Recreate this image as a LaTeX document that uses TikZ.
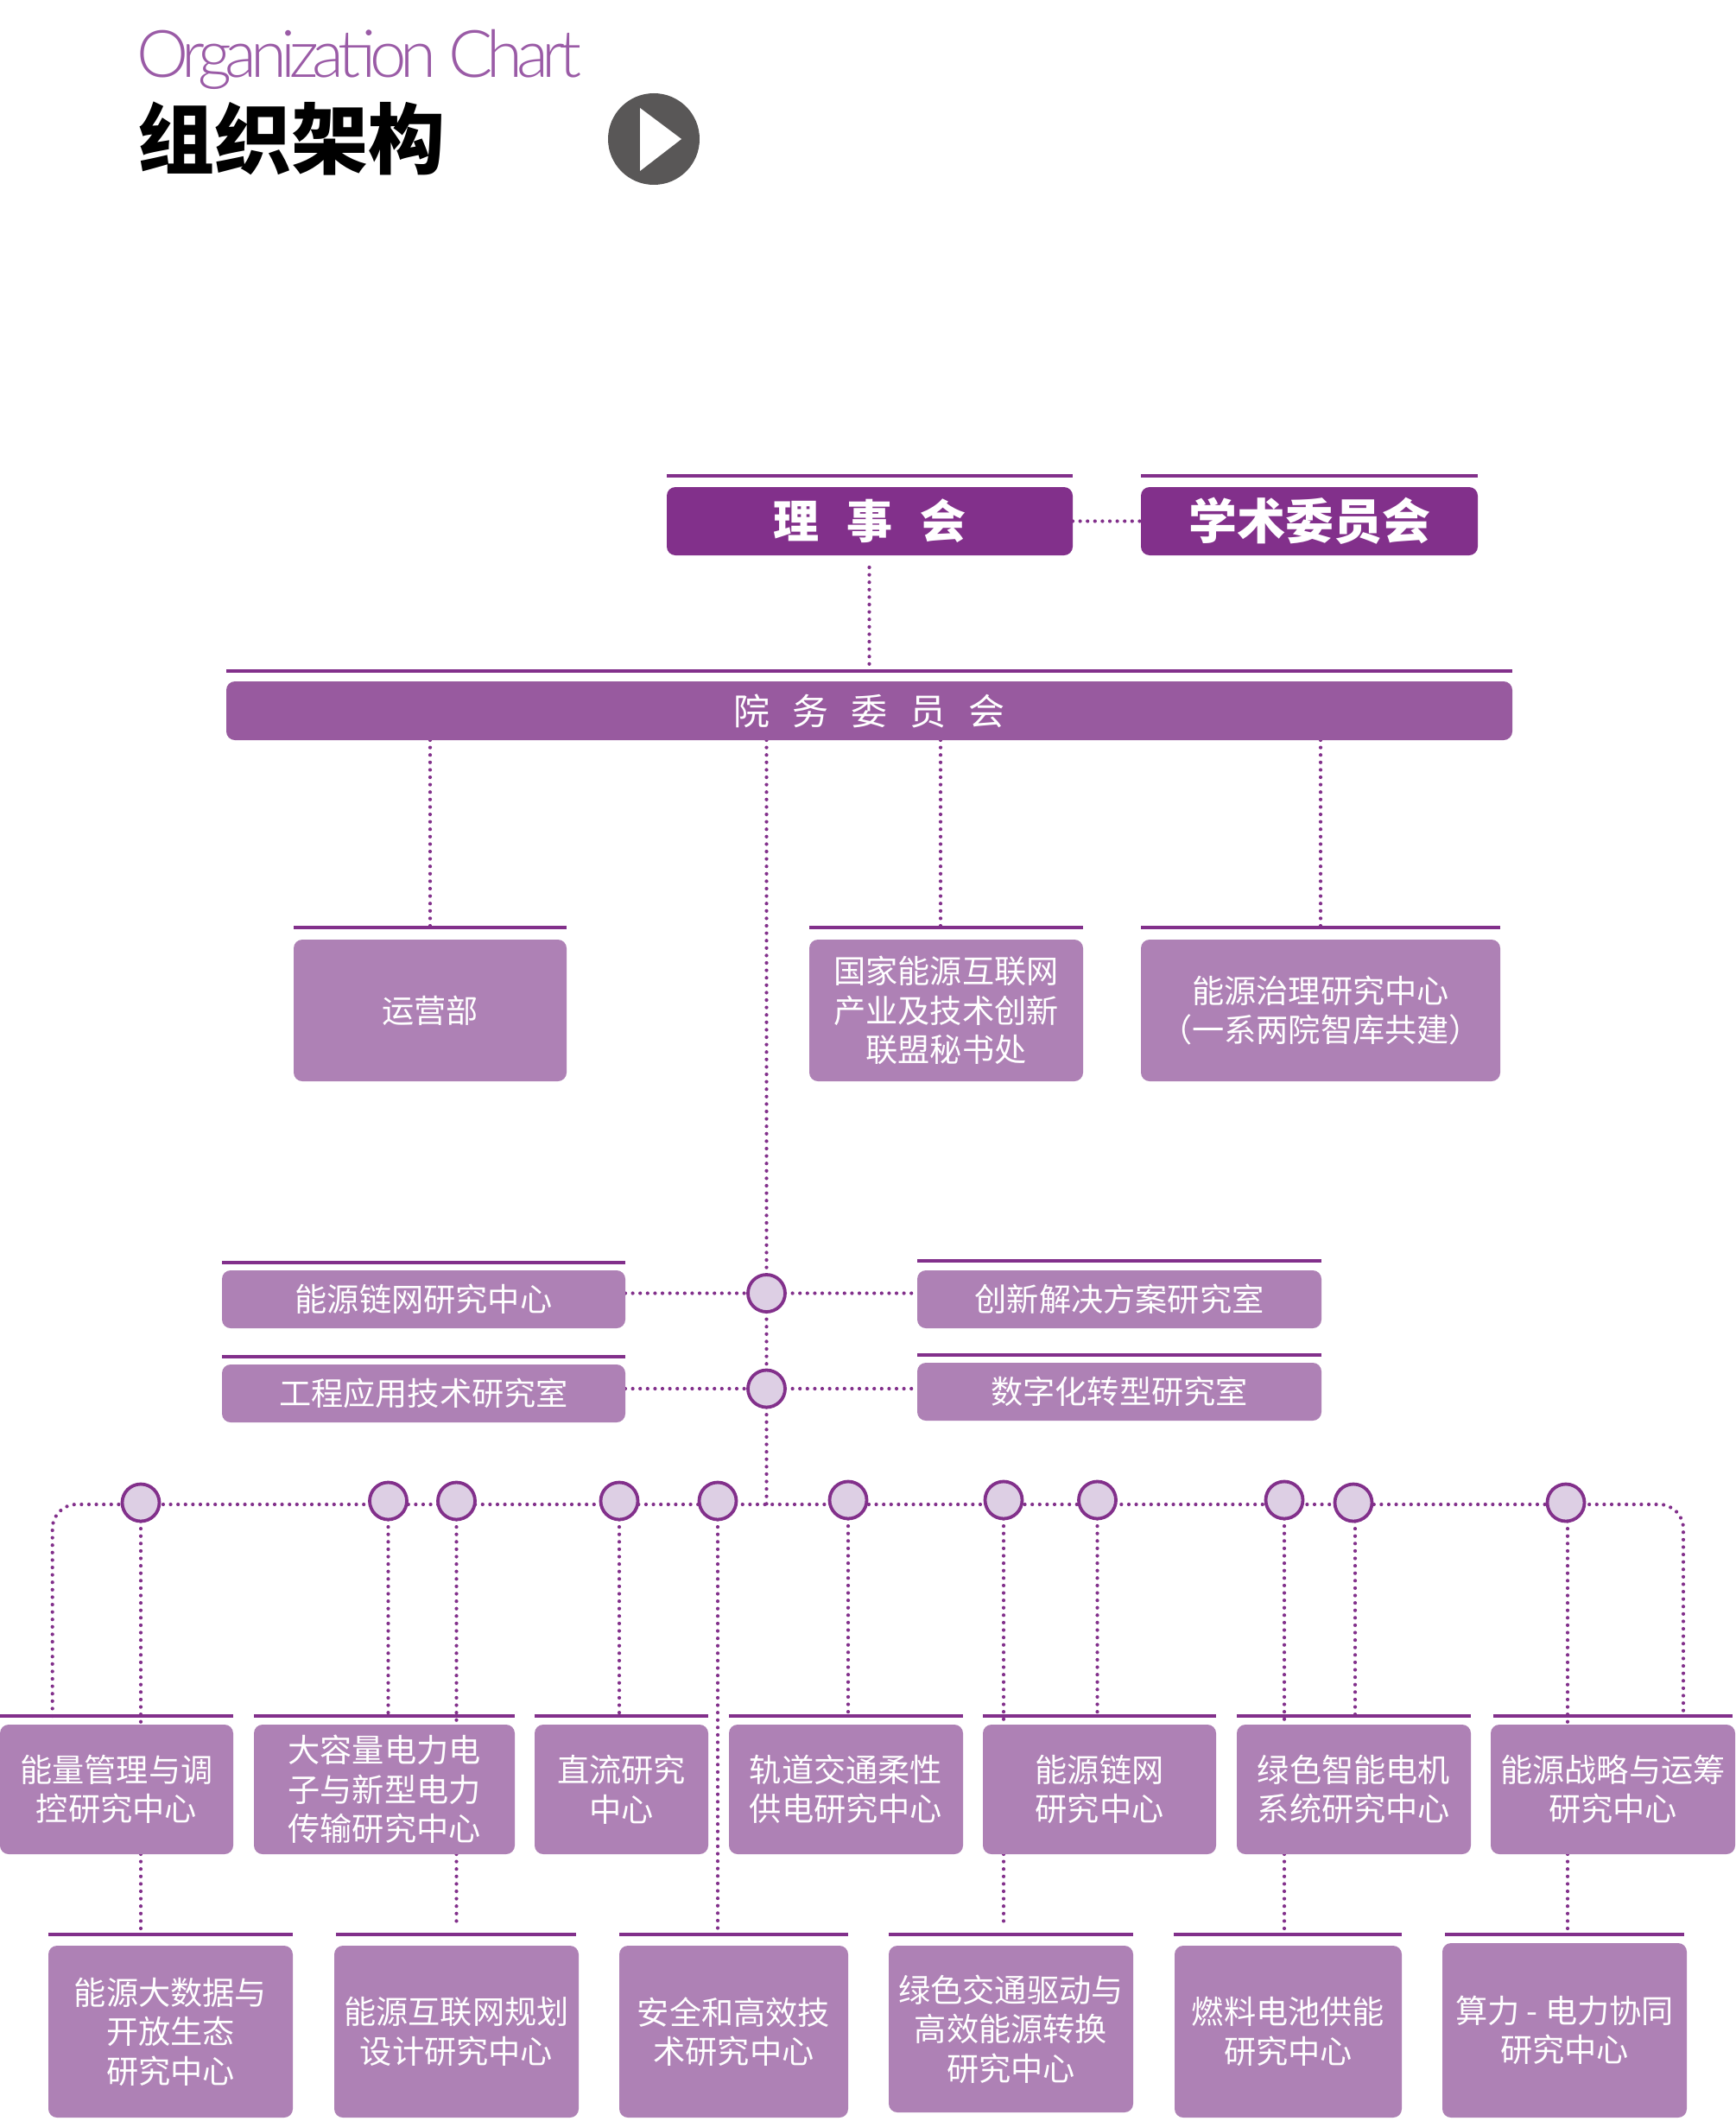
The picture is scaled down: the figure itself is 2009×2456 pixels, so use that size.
\documentclass[tikz,border=0pt]{standalone}
\usepackage{fontspec}
\usetikzlibrary{backgrounds,calc}
\newfontfamily\cjk{Noto Sans CJK SC}
\newfontfamily\ttl[LetterSpace=-9.3]{Lato Light}
\definecolor{pdark}{HTML}{82308B}
\definecolor{pmid}{HTML}{985A9F}
\definecolor{plight}{HTML}{AE81B5}
\definecolor{pfill}{HTML}{DDCFE4}
\definecolor{ptitle}{HTML}{9A5BA6}
\definecolor{pgrey}{HTML}{595757}
\tikzset{
  basebox/.style={inner sep=0pt,outer sep=0pt,rounded corners=5pt,text=white,align=center},
  boxa/.style={basebox,fill=pdark,font=\cjk\bfseries\fontsize{26.5}{30}\selectfont},
  boxb/.style={basebox,fill=pmid,font=\cjk\fontsize{21}{24}\selectfont},
  boxc/.style={basebox,fill=plight,font=\cjk\fontsize{18.6}{22.7}\selectfont},
  rulel/.style={draw=pdark,line width=1.6pt},
  dotl/.style={draw=pdark,line width=2.1pt,line cap=round,dash pattern=on 0pt off 4.3pt},
  hub/.style={circle,draw=pdark,line width=1.9pt,fill=pfill,minimum size=21.5pt,inner sep=0pt,outer sep=0pt},
}
\newcommand\bx[7]{\node[#6,minimum width={(#4-#2)*0.5pt},minimum height={(#5-#3)*0.5pt}] (#1) at ({(#2+#4)/2},{(#3+#5)/2}) {#7};}
\newcommand\rl[4]{\coordinate (#1) at (#2,#4); \draw[rulel] (#1) -- (#3,#4);}
\newcommand\hb[3]{\node[hub] (#1) at (#2,#3) {};}
\begin{document}
\begin{tikzpicture}[x=0.5pt,y=-0.5pt]
\useasboundingbox (0,0) rectangle (2009,2456);
% heading
\node[anchor=base west,inner sep=0pt,text=ptitle,font=\ttl\fontsize{38}{40}\selectfont] (entitle) at (158,90) {Organization Chart};
\node[inner sep=0pt,text=black,font=\cjk\bfseries\fontsize{44.5}{50}\selectfont] (cntitle) at (337,161) {组织架构};
\node[circle,fill=pgrey,minimum size=53pt,inner sep=0pt] (play) at (757,161) {};
\fill[white] (741,125) -- (789,161) -- (741,198) -- cycle;
% top
\rl{rls}{772}{1242}{551}
\rl{rac}{1321}{1711}{551}
\bx{ls}{772}{564}{1242}{643}{boxa}{理\hspace{16pt}事\hspace{16pt}会}
\bx{ac}{1321}{564}{1711}{643}{boxa}{\fontsize{28}{30}\selectfont 学术委员会}
\rl{ryw}{262}{1751}{777}
\bx{yw}{262}{789}{1751}{857}{boxb}{院\hspace{13pt}务\hspace{13pt}委\hspace{13pt}员\hspace{13pt}会}
% first row
\rl{rop}{340}{656}{1074}
\rl{rgj}{937}{1254}{1074}
\rl{rzl}{1321}{1737}{1074}
\bx{op}{340}{1088}{656}{1252}{boxc}{运营部}
\bx{gj}{937}{1088}{1254}{1252}{boxc}{国家能源互联网\\产业及技术创新\\联盟秘书处}
\bx{zl}{1321}{1088}{1737}{1252}{boxc}{能源治理研究中心\\（一系两院智库共建）}
% second group
\rl{rm1}{257}{724}{1462}
\rl{rm2}{257}{724}{1571}
\rl{rm3}{1062}{1530}{1460}
\rl{rm4}{1062}{1530}{1569}
\bx{m1}{257}{1471}{724}{1538}{boxc}{能源链网研究中心}
\bx{m2}{257}{1580}{724}{1647}{boxc}{工程应用技术研究室}
\bx{m3}{1062}{1471}{1530}{1538}{boxc}{创新解决方案研究室}
\bx{m4}{1062}{1578}{1530}{1645}{boxc}{数字化转型研究室}
\hb{ca}{887.5}{1497.5}
\hb{cb}{887.5}{1608}
% third row
\rl{r1}{0}{270}{1987}
\rl{r2}{294}{596}{1987}
\rl{r3}{619}{820}{1987}
\rl{r4}{844}{1115}{1987}
\rl{r5}{1138}{1408}{1987}
\rl{r6}{1432}{1703}{1987}
\rl{r7}{1729}{2006}{1987}
\bx{b1}{0}{1997}{270}{2147}{boxc}{能量管理与调\\控研究中心}
\bx{b2}{294}{1997}{596}{2147}{boxc}{大容量电力电\\子与新型电力\\传输研究中心}
\bx{b3}{619}{1997}{820}{2147}{boxc}{直流研究\\中心}
\bx{b4}{844}{1997}{1115}{2147}{boxc}{轨道交通柔性\\供电研究中心}
\bx{b5}{1138}{1997}{1408}{2147}{boxc}{能源链网\\研究中心}
\bx{b6}{1432}{1997}{1703}{2147}{boxc}{绿色智能电机\\系统研究中心}
\bx{b7}{1726}{1997}{2009}{2147}{boxc}{能源战略与运筹\\研究中心}
% fourth row
\rl{s1}{56}{339}{2240}
\rl{s2}{389}{667}{2240}
\rl{s3}{717}{982}{2240}
\rl{s4}{1029}{1312}{2240}
\rl{s5}{1359}{1623}{2240}
\rl{s6}{1673}{1950}{2240}
\bx{d1}{56}{2253}{339}{2452}{boxc}{能源大数据与\\开放生态\\研究中心}
\bx{d2}{387}{2253}{670}{2452}{boxc}{能源互联网规划\\设计研究中心}
\bx{d3}{717}{2253}{982}{2452}{boxc}{安全和高效技\\术研究中心}
\bx{d4}{1029}{2253}{1312}{2446}{boxc}{绿色交通驱动与\\高效能源转换\\研究中心}
\bx{d5}{1360}{2253}{1623}{2452}{boxc}{燃料电池供能\\研究中心}
\bx{d6}{1670}{2250}{1953}{2452}{boxc}{算力 - 电力协同\\研究中心}
% hubs
\hb{c1}{163}{1740}
\hb{c2}{449.5}{1738}
\hb{c3}{528.5}{1738}
\hb{c4}{717}{1738}
\hb{c5}{831}{1738}
\hb{c6}{982}{1737}
\hb{c7}{1162}{1737}
\hb{c8}{1270.5}{1737}
\hb{c9}{1487}{1737}
\hb{c10}{1567}{1740}
\hb{c11}{1813}{1740}
\coordinate (busL) at (60.7,1742);
\coordinate (busR) at (1949,1742);
\coordinate (ls1) at (1006.5,657);
\coordinate (v2) at (1089,900);
\begin{scope}[on background layer]
\draw[dotl] (ls.east) -- (ac.west);
\draw[dotl] (ls1) -- (ls1 |- ryw);
\draw[dotl] (op.north |- yw.south) -- (op.north |- rop);
\draw[dotl] (v2 |- yw.south) -- (v2 |- rgj);
\draw[dotl] (zl.north |- yw.south) -- (zl.north |- rzl);
\draw[dotl] (ca |- yw.south) -- (ca.north);
\draw[dotl] (ca.south) -- (cb.north);
\draw[dotl] (cb.south) -- (cb |- busL);
\draw[dotl] (m1.east |- ca) -- (ca.west);
\draw[dotl] (ca.east) -- (ca -| m3.west);
\draw[dotl] (m2.east |- cb) -- (cb.west);
\draw[dotl] (cb.east) -- (cb -| m4.west);
\draw[dotl,rounded corners=14pt] (busL |- r1) -- (busL) -- (busR) -- (busR |- r7);
\draw[dotl] (c1.south) -- (c1.south |- b1.north);
\draw[dotl] (c1 |- b1.south) -- (c1 |- s1);
\draw[dotl] (c2.south) -- (c2.south |- r2);
\draw[dotl] (c3.south) -- (c3.south |- b2.north);
\draw[dotl] (c3 |- b2.south) -- ($(c3 |- s2)+(0,-9)$);
\draw[dotl] (c4.south) -- (c4.south |- r3);
\draw[dotl] (c5.south) -- ($(c5 |- s3)+(0,-4)$);
\draw[dotl] (c6.south) -- (c6.south |- r4);
\draw[dotl] (c7.south) -- (c7.south |- b5.north);
\draw[dotl] (c7 |- b5.south) -- ($(c7 |- s4)+(0,-9)$);
\draw[dotl] (c8.south) -- (c8.south |- r5);
\draw[dotl] (c9.south) -- (c9.south |- b6.north);
\draw[dotl] (c9 |- b6.south) -- ($(c9 |- s5)+(0,-5)$);
\draw[dotl] ($(c10.south)+(2,0)$) -- ($(c10.south |- r6)+(2,0)$);
\draw[dotl] ($(c11.south)+(2,0)$) -- ($(c11.south |- b7.north)+(2,0)$);
\draw[dotl] ($(c11 |- b7.south)+(2,0)$) -- ($(c11 |- s6)+(2,-5)$);
\end{scope}
\end{tikzpicture}
\end{document}
